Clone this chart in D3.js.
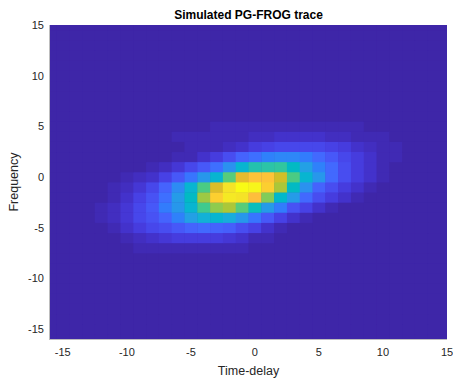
<!DOCTYPE html>
<html>
<head>
<meta charset="utf-8">
<script src="https://cdn.jsdelivr.net/npm/d3@7"></script>
<style>
  html, body { margin: 0; padding: 0; background: #ffffff; }
  svg { display: block; }
  text { font-family: "Liberation Sans", Arial, Helvetica, sans-serif; fill: #262626; }
</style>
</head>
<body>
<svg id="chart" width="453" height="381"></svg>
<script>
// ---- data ----
const timeDelay = d3.range(-16, 16);   // full grid, -16 .. 15
const frequency = d3.range(-16, 16);   // full grid, -16 .. 15
// non-background window of the trace
const windowTimes = [-13,-12,-11,-10,-9,-8,-7,-6,-5,-4,-3,-2,-1,0,1,2,3,4,5,6,7,8,9,10,11];
const windowFreqs = [5,4,3,2,1,0,-1,-2,-3,-4,-5,-6,-7];
const traceRows = [
  [0,0,0,0,0,0,0,0,0,0,.02,.02,.02,.02,.02,.02,.02,.02,.02,.02,.02,.02,0,0,0],
  [0,0,0,0,0,0,0,.02,.02,.02,.03,.03,.03,.04,.04,.05,.05,.05,.05,.04,.04,.03,.02,.02,0],
  [0,0,0,0,0,0,0,.01,.02,.02,.03,.04,.06,.08,.10,.11,.12,.12,.12,.10,.09,.06,.04,.03,.02],
  [0,0,0,0,0,0,.01,.02,.03,.06,.09,.13,.19,.23,.27,.29,.29,.26,.21,.16,.12,.09,.05,.03,.02],
  [0,0,0,0,.01,.02,.04,.07,.11,.16,.23,.32,.45,.52,.54,.55,.47,.37,.28,.21,.14,.09,.05,.03,.01],
  [0,0,.01,.02,.04,.06,.10,.16,.24,.33,.45,.62,.79,.85,.85,.76,.60,.45,.33,.21,.14,.09,.05,.02,.01],
  [0,.01,.02,.04,.07,.12,.20,.31,.44,.60,.78,.93,1.0,.98,.88,.71,.48,.32,.20,.14,.09,.05,.02,.01,0],
  [0,.01,.03,.06,.10,.15,.23,.35,.48,.70,.88,.94,.93,.83,.67,.46,.35,.21,.13,.09,.05,.02,.01,0,0],
  [.01,.02,.04,.07,.11,.17,.25,.34,.45,.58,.68,.71,.61,.49,.35,.25,.15,.10,.05,.02,.01,0,0,0,0],
  [.01,.02,.04,.07,.11,.15,.20,.27,.36,.43,.45,.42,.33,.24,.16,.10,.05,.02,.01,0,0,0,0,0,0],
  [0,.01,.02,.05,.08,.11,.14,.17,.20,.21,.20,.18,.13,.10,.05,.02,.01,0,0,0,0,0,0,0,0],
  [0,0,.01,.02,.04,.06,.07,.08,.09,.09,.08,.07,.05,.03,.02,0,0,0,0,0,0,0,0,0,0],
  [0,0,0,0,.02,.02,.03,.03,.03,.03,.03,.02,.02,0,0,0,0,0,0,0,0,0,0,0,0]
];
const xTicks = [-15,-10,-5,0,5,10,15];
const yTicks = [-15,-10,-5,0,5,10,15];
const titleText = "Simulated PG-FROG trace";
const xLabelText = "Time-delay";
const yLabelText = "Frequency";

// parula colormap (64 entries)
const parula = [
[0.2422,0.1504,0.6603],[0.2504,0.1650,0.7076],[0.2578,0.1818,0.7511],[0.2647,0.1978,0.7952],
[0.2706,0.2147,0.8364],[0.2751,0.2342,0.8710],[0.2783,0.2559,0.8991],[0.2803,0.2782,0.9221],
[0.2813,0.3006,0.9414],[0.2810,0.3228,0.9579],[0.2795,0.3447,0.9717],[0.2760,0.3667,0.9829],
[0.2699,0.3892,0.9906],[0.2602,0.4123,0.9952],[0.2440,0.4358,0.9988],[0.2206,0.4603,0.9973],
[0.1963,0.4847,0.9892],[0.1834,0.5074,0.9798],[0.1786,0.5289,0.9682],[0.1764,0.5499,0.9520],
[0.1687,0.5703,0.9359],[0.1540,0.5902,0.9218],[0.1460,0.6091,0.9079],[0.1380,0.6276,0.8973],
[0.1248,0.6459,0.8883],[0.1113,0.6635,0.8763],[0.0952,0.6798,0.8598],[0.0689,0.6948,0.8394],
[0.0297,0.7082,0.8163],[0.0036,0.7203,0.7917],[0.0067,0.7312,0.7660],[0.0433,0.7411,0.7394],
[0.0964,0.7500,0.7120],[0.1408,0.7584,0.6842],[0.1717,0.7670,0.6554],[0.1938,0.7758,0.6251],
[0.2161,0.7843,0.5923],[0.2470,0.7918,0.5567],[0.2906,0.7973,0.5188],[0.3406,0.8008,0.4789],
[0.3909,0.8029,0.4354],[0.4456,0.8024,0.3909],[0.5044,0.7993,0.3480],[0.5616,0.7942,0.3045],
[0.6174,0.7876,0.2612],[0.6720,0.7793,0.2227],[0.7242,0.7698,0.1910],[0.7738,0.7598,0.1646],
[0.8203,0.7498,0.1535],[0.8634,0.7406,0.1596],[0.9035,0.7330,0.1774],[0.9393,0.7288,0.2100],
[0.9728,0.7298,0.2394],[0.9956,0.7434,0.2371],[0.9970,0.7659,0.2199],[0.9952,0.7893,0.2028],
[0.9892,0.8136,0.1885],[0.9786,0.8386,0.1766],[0.9676,0.8639,0.1643],[0.9610,0.8890,0.1537],
[0.9597,0.9135,0.1423],[0.9628,0.9373,0.1265],[0.9691,0.9606,0.1064],[0.9769,0.9839,0.0805]
].map(c => d3.rgb(c[0]*255, c[1]*255, c[2]*255).formatHex());

// ---- build cells ----
const cells = [];
frequency.forEach(f => {
  timeDelay.forEach(t => {
    const ri = windowFreqs.indexOf(f), ci = windowTimes.indexOf(t);
    const v = (ri >= 0 && ci >= 0) ? traceRows[ri][ci] : 0;
    cells.push({t, f, v});
  });
});

// ---- layout ----
const svg = d3.select("#chart");
const mLeft = 50, mRight = 447, mTop = 25, mBottom = 339;
const x = d3.scaleLinear().domain([-16, 15]).range([mLeft, mRight]);
const y = d3.scaleLinear().domain([-16, 15]).range([mBottom, mTop]);
const vmin = d3.min(cells, d => d.v), vmax = d3.max(cells, d => d.v);
const color = d3.scaleQuantize().domain([vmin, vmax]).range(parula);

svg.append("clipPath").attr("id", "plotclip")
  .append("rect").attr("x", mLeft).attr("y", mTop)
  .attr("width", mRight - mLeft).attr("height", mBottom - mTop);

const g = svg.append("g").attr("clip-path", "url(#plotclip)");
g.append("rect").attr("x", mLeft).attr("y", mTop)
  .attr("width", mRight - mLeft).attr("height", mBottom - mTop)
  .attr("fill", color(vmin));
g.selectAll("rect.cell").data(cells).join("rect")
  .attr("class", "cell")
  .attr("x", d => x(d.t - 0.5))
  .attr("y", d => y(d.f + 0.5))
  .attr("width", d => x(d.t + 0.5) - x(d.t - 0.5) + 0.4)
  .attr("height", d => y(d.f - 0.5) - y(d.f + 0.5) + 0.4)
  .attr("fill", d => color(d.v));

// axis lines
svg.append("line").attr("x1", mLeft).attr("x2", mRight)
  .attr("y1", mBottom + 0.5).attr("y2", mBottom + 0.5)
  .attr("stroke", "#bdbdbd").attr("stroke-width", 1);
svg.append("line").attr("x1", mLeft - 0.5).attr("x2", mLeft - 0.5)
  .attr("y1", mTop).attr("y2", mBottom + 1)
  .attr("stroke", "#bdbdbd").attr("stroke-width", 1);

// tick labels
svg.append("g").selectAll("text").data(xTicks).join("text")
  .attr("x", d => x(d)).attr("y", 356)
  .attr("text-anchor", "middle").attr("font-size", 11)
  .text(d => d);
svg.append("g").selectAll("text").data(yTicks).join("text")
  .attr("x", 44).attr("y", d => y(d) + 4)
  .attr("text-anchor", "end").attr("font-size", 11)
  .text(d => d);

// labels
svg.append("text").attr("x", (mLeft + mRight) / 2).attr("y", 19)
  .attr("text-anchor", "middle").attr("font-size", 12).attr("font-weight", "bold")
  .style("fill", "#000")
  .text(titleText);
svg.append("text").attr("x", (mLeft + mRight) / 2).attr("y", 375)
  .attr("text-anchor", "middle").attr("font-size", 12.5)
  .text(xLabelText);
svg.append("text")
  .attr("transform", `translate(18,${(mTop + mBottom) / 2}) rotate(-90)`)
  .attr("text-anchor", "middle").attr("font-size", 12.5)
  .text(yLabelText);
</script>
</body>
</html>
